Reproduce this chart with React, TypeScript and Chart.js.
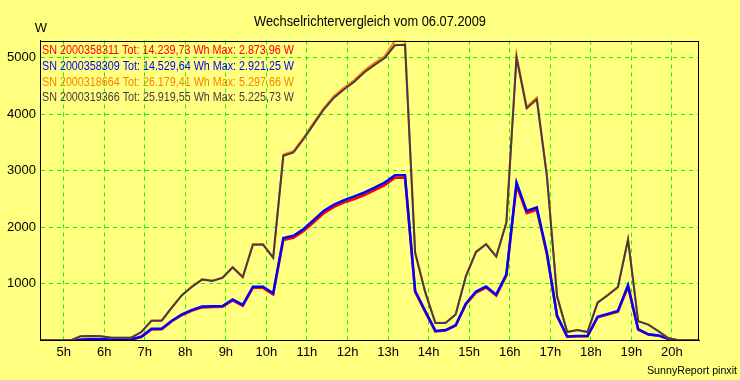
import React, { useEffect, useRef } from "react";
import { Chart, registerables } from "chart.js";

Chart.register(...registerables);

const titleText = "Wechselrichtervergleich vom 06.07.2009";
const unitLabel = "W";
const footerText = "SunnyReport pinxit";

const times = [
  "04:25", "04:40", "04:55", "05:10", "05:25", "05:40", "05:55", "06:10", "06:25", "06:40",
  "06:55", "07:10", "07:25", "07:40", "07:55", "08:10", "08:25", "08:40", "08:55", "09:10",
  "09:25", "09:40", "09:55", "10:10", "10:25", "10:40", "10:55", "11:10", "11:25", "11:40",
  "11:55", "12:10", "12:25", "12:40", "12:55", "13:10", "13:25", "13:40", "13:55", "14:10",
  "14:25", "14:40", "14:55", "15:10", "15:25", "15:40", "15:55", "16:10", "16:25", "16:40",
  "16:55", "17:10", "17:25", "17:40", "17:55", "18:10", "18:25", "18:40", "18:55", "19:10",
  "19:25", "19:40", "19:55", "20:10", "20:25", "20:40",
];

// SN 2000319366 (dark)
const sn319366 = [
  0, 0, 0, 0, 76, 78, 76, 50, 48, 50,
  150, 350, 350, 580, 800, 950, 1076, 1050, 1106, 1290,
  1117, 1693, 1693, 1460, 3263, 3322, 3560, 3822, 4085, 4290,
  4440, 4570, 4740, 4870, 4990, 5215, 5226, 1550, 850, 310,
  310, 460, 1130, 1560, 1700, 1480, 2080, 5000, 4100, 4260,
  2900, 780, 150, 185, 150, 670, 800, 940, 1780, 340,
  280, 164, 40, 0, 0, 0,
];

// SN 2000318664 (orange)
const sn318664 = [
  0, 0, 0, 0, 77, 79, 77, 51, 49, 51,
  152, 353, 353, 585, 806, 958, 1084, 1058, 1114, 1300,
  1125, 1706, 1706, 1470, 3285, 3345, 3585, 3850, 4112, 4318,
  4470, 4602, 4772, 4905, 5025, 5290, 5298, 1562, 857, 313,
  313, 464, 1138, 1572, 1712, 1491, 2095, 5040, 4130, 4292,
  2922, 786, 151, 186, 151, 675, 806, 947, 1795, 343,
  282, 165, 40, 0, 0, 0,
];

// SN 2000358309 (blue)
const sn358309 = [
  0, 0, 0, 0, 15, 20, 20, 18, 18, 20,
  70, 206, 206, 350, 460, 540, 600, 605, 610, 725,
  630, 950, 950, 835, 1810, 1850, 1970, 2130, 2290, 2400,
  2480, 2545, 2615, 2700, 2790, 2921, 2921, 880, 520, 170,
  185, 270, 650, 865, 955, 810, 1170, 2790, 2290, 2350,
  1550, 440, 70, 80, 80, 420, 470, 520, 975, 200,
  110, 90, 30, 0, 0, 0,
];

// SN 2000358311 (red)
const sn358311 = [
  0, 0, 0, 0, 12, 16, 16, 15, 15, 16,
  60, 196, 198, 340, 450, 528, 585, 590, 596, 708,
  612, 930, 930, 812, 1775, 1815, 1935, 2090, 2250, 2360,
  2440, 2500, 2570, 2655, 2745, 2874, 2874, 860, 505, 160,
  175, 262, 635, 845, 935, 792, 1145, 2740, 2250, 2310,
  1520, 428, 65, 75, 75, 408, 458, 508, 950, 192,
  105, 86, 28, 0, 0, 0,
];

const legendTexts = [
  "SN 2000358311 Tot: 14.239,73 Wh Max: 2.873,96 W",
  "SN 2000358309 Tot: 14.529,64 Wh Max: 2.921,25 W",
  "SN 2000318664 Tot: 26.179,41 Wh Max: 5.297,66 W",
  "SN 2000319366 Tot: 25.919,55 Wh Max: 5.225,73 W",
];
const legendColors = ["#ff0000", "#0000ff", "#ff8000", "#4a3848"];

const hourTicks = [5, 6, 7, 8, 9, 10, 11, 12, 13, 14, 15, 16, 17, 18, 19, 20];
const wattTicks = [1000, 2000, 3000, 4000, 5000];
const axisStart = "04:25";
const axisEnd = "20:40";
const wattMax = 5300;

const FONT = '"Liberation Sans", Arial, Helvetica, sans-serif';
const BG = "#ffff80";
const GRID = "#00ff00";

const toHours = (t: string) => {
  const [h, m] = t.split(":").map(Number);
  return h + m / 60;
};

const series = (vals: number[]) => times.map((t, i) => ({ x: toHours(t), y: vals[i] }));

const overlayPlugin = {
  id: "overlay",
  beforeDraw(chart: any) {
    const ctx = chart.ctx;
    ctx.save();
    ctx.fillStyle = BG;
    ctx.fillRect(0, 0, chart.width, chart.height);
    ctx.restore();
  },
  afterDraw(chart: any) {
    const ctx = chart.ctx;
    const a = chart.chartArea;
    ctx.save();
    ctx.strokeStyle = "#000";
    ctx.lineWidth = 1;
    ctx.strokeRect(
      Math.round(a.left) + 0.5,
      Math.round(a.top) + 0.5,
      Math.round(a.right) - Math.round(a.left) - 1,
      Math.round(a.bottom) - Math.round(a.top) - 1
    );

    ctx.fillStyle = "#000";
    ctx.textBaseline = "alphabetic";
    ctx.textAlign = "center";
    ctx.font = `14px ${FONT}`;
    ctx.fillText(titleText, 370, 26, 232);

    ctx.font = `13px ${FONT}`;
    ctx.fillText(unitLabel, 41, 31.5);

    ctx.textAlign = "left";
    ctx.font = `12px ${FONT}`;
    legendTexts.forEach((t, i) => {
      ctx.fillStyle = legendColors[i];
      ctx.fillText(t, 42, 54 + i * 15.8, 252);
    });

    ctx.textAlign = "right";
    ctx.fillStyle = "#000";
    ctx.font = `11px ${FONT}`;
    ctx.fillText(footerText, 737, 374, 90);
    ctx.restore();
  },
};

export default function App() {
  const canvasRef = useRef<HTMLCanvasElement | null>(null);

  useEffect(() => {
    const canvas = canvasRef.current;
    if (!canvas) return;
    const lineDs = (label: string, vals: number[], color: string, width: number) => ({
      label,
      data: series(vals),
      borderColor: color,
      backgroundColor: color,
      borderWidth: width,
      pointRadius: 0,
      tension: 0,
      fill: false,
    });
    const chart = new Chart(canvas, {
      type: "line",
      data: {
        datasets: [
          lineDs("SN 2000319366", sn319366, legendColors[3], 2),
          lineDs("SN 2000318664", sn318664, legendColors[2], 2),
          lineDs("SN 2000358309", sn358309, legendColors[1], 2.5),
          lineDs("SN 2000358311", sn358311, legendColors[0], 2.5),
        ],
      },
      options: {
        responsive: false,
        animation: false,
        devicePixelRatio: 1,
        events: [],
        layout: { padding: { left: 0, right: 41, top: 40.5, bottom: 0 } },
        plugins: {
          legend: { display: false },
          title: { display: false },
          tooltip: { enabled: false },
        },
        scales: {
          x: {
            type: "linear",
            min: toHours(axisStart),
            max: toHours(axisEnd),
            afterBuildTicks: (s: any) => {
              s.ticks = hourTicks.map((v) => ({ value: v }));
            },
            afterFit: (s: any) => {
              s.height = 39.5;
            },
            grid: { color: GRID, lineWidth: 1, drawTicks: false },
            border: { display: true, color: "#000", width: 1, dash: [4, 4] },
            ticks: {
              padding: 4,
              autoSkip: false,
              maxRotation: 0,
              color: "#000",
              font: { family: FONT, size: 13 },
              callback: (v: any) => `${v}h`,
            },
          },
          y: {
            type: "linear",
            min: 0,
            max: wattMax,
            afterBuildTicks: (s: any) => {
              s.ticks = wattTicks.map((v) => ({ value: v }));
            },
            afterFit: (s: any) => {
              s.width = 40;
            },
            grid: { color: GRID, lineWidth: 1, drawTicks: false },
            border: { display: true, color: "#000", width: 1, dash: [4, 4] },
            ticks: {
              padding: 4,
              color: "#000",
              font: { family: FONT, size: 13 },
              callback: (v: any) => String(v),
            },
          },
        },
      },
      plugins: [overlayPlugin],
    } as any);
    return () => chart.destroy();
  }, []);

  return (
    <div style={{ position: "fixed", left: 0, top: 0, width: 740, height: 380, background: BG }}>
      <canvas ref={canvasRef} width={740} height={380} style={{ display: "block" }} />
    </div>
  );
}
